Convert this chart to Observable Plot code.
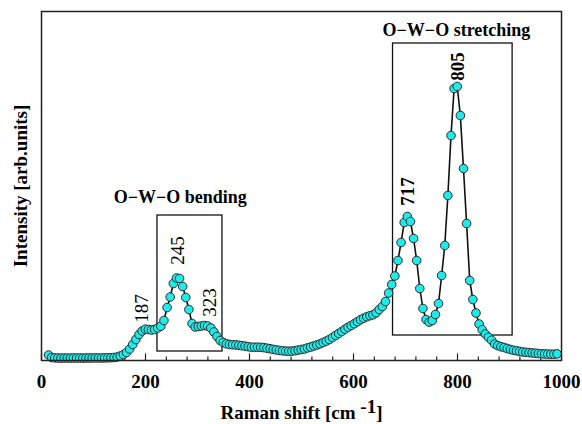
<!DOCTYPE html>
<html><head><meta charset="utf-8">
<script src="https://cdn.jsdelivr.net/npm/d3@7"></script>
<script src="https://cdn.jsdelivr.net/npm/@observablehq/plot@0.6"></script>
<style>
body{margin:0;background:#fff}
#chart{width:582px;height:424px}
</style>
</head><body><div id="chart"></div>
<script>
// Raman shift sampling (cm^-1)
const ramanShift = [
13.5,19.5,25.5,31.5,37.5,43.5,49.5,55.5,61.5,67.5,
73.5,79.5,85.5,91.5,97.5,103.5,109.5,115.5,121.5,127.5,
133.5,139.5,145.5,151.5,157.5,163.5,169.5,175.5,181.5,187.5,
193.5,199.5,205.5,211.5,217.5,223.5,229.5,235.5,241.5,247.5,
253.5,259.5,265.5,271.5,277.5,283.5,289.5,295.5,301.5,307.5,
313.5,319.5,325.5,331.5,337.5,343.5,349.5,355.5,361.5,367.5,
373.5,379.5,385.5,391.5,397.5,403.5,409.5,415.5,421.5,427.5,
433.5,439.5,445.5,451.5,457.5,463.5,469.5,475.5,481.5,487.5,
493.5,499.5,505.5,511.5,517.5,523.5,529.5,535.5,541.5,547.5,
553.5,559.5,565.5,571.5,577.5,583.5,589.5,595.5,601.5,607.5,
613.5,619.5,625.5,631.5,637.5,643.5,649.5,655.5,661.5,667.5,
673.5,679.5,685.5,691.5,697.5,703.5,709.5,715.5,721.5,727.5,
733.5,739.5,745.5,751.5,757.5,763.5,769.5,775.5,781.5,787.5,
793.5,799.5,805.5,811.5,817.5,823.5,829.5,835.5,841.5,847.5,
853.5,859.5,865.5,871.5,877.5,883.5,889.5,895.5,901.5,907.5,
913.5,919.5,925.5,931.5,937.5,943.5,949.5,955.5,961.5,967.5,
973.5,979.5,985.5,991.5];
// Intensity (arb. units)
const intensity = [
5.5,3,2.6,2.5,2.4,2.5,2.5,2.4,2.5,2.5,
2.5,2.4,2.5,2.5,2.5,2.6,2.5,2.5,2.6,2.7,
2.8,3,3.5,4.5,6,8,11.5,16,21,26,
29.5,31.3,31,30.5,31,32.5,34.3,40,53,63.5,
77,82.5,82,74,63,51,37,33.5,34,34.5,
35,34.5,32.5,28.5,24,20,18,16.7,16,15.8,
15.6,15.2,14.8,14.4,13.8,13.3,13.3,13.3,13.2,12.9,
12.3,11.8,11.1,10.6,10.1,9.7,9.4,9.3,9.4,9.8,
10.4,11,11.5,12.6,13.4,14.5,15.5,16.6,18,19.4,
21,23,25,27,29,31.3,33.2,35,36.8,38.8,
40.8,42.3,43.7,44.8,45.7,47.7,51,54,59,67.5,
76,84.5,100,118,138,144,139,122,100,72,
52,41,38.3,40,46,57,85,115,165,225,
272,274,245,192,137,80,61,47.5,36.5,30.8,
26.5,23.3,20.3,16.5,14.9,13.8,13,12,11,10.3,
9.7,9.1,8.5,8.2,7.9,7.6,7.3,7,6.7,6.6,
6.4,6.3,6.3,6.6];

const xTickValues = [0,200,400,600,800,1000];
const xMinorTicks = [40,80,120,160,240,280,320,360,440,480,520,560,640,680,720,760,840,880,920,960];

const peakLabels = ["187","245","323","717","805"];
const peakLabelX = [193,263,324,704,801];
const peakLabelY = [52,110,58,169,294];
const peakBold = [false,false,false,true,true];

const regionNames = ["O\u2212W\u2212O bending","O\u2212W\u2212O stretching"];
const regionX1 = [223,676];
const regionX2 = [348,906];
const regionY1 = [9,25];
const regionY2 = [145,317];
const regionLabelX = [267,798];
const regionLabelY = [163,330];

const xLabelMain = "Raman shift [cm ";
const xLabelSup = "-1";
const xLabelEnd = "]";
const yLabel = "Intensity [arb.units]";

const points = ramanShift.map((x,i)=>({x, y: intensity[i]}));
const peaks = peakLabels.map((t,i)=>({t, x: peakLabelX[i], y: peakLabelY[i], bold: peakBold[i]}));
const regions = regionNames.map((n,i)=>({n, x1: regionX1[i], x2: regionX2[i], y1: regionY1[i], y2: regionY2[i], lx: regionLabelX[i], ly: regionLabelY[i]}));

const font = "'Liberation Serif','Times New Roman',serif";
const innerH = 424 - 11 - 64;
const fullXLabel = xLabelMain + xLabelSup + xLabelEnd;

const plot = Plot.plot({
  width: 582, height: 424,
  marginLeft: 41, marginRight: 21, marginTop: 11, marginBottom: 64,
  style: {fontFamily: font, fontSize: "19px", background: "white", color: "black", overflow: "visible"},
  x: {domain: [0,1000], axis: null},
  y: {domain: [0,349], axis: null},
  marks: [
    Plot.ruleX(xMinorTicks, {insetTop: innerH - 3.5, stroke: "#222", strokeWidth: 1.2}),
    Plot.ruleX(xTickValues, {insetTop: innerH - 6.5, stroke: "#222", strokeWidth: 1.2}),
    Plot.text(xTickValues, {x: d => d, text: d => String(d), frameAnchor: "bottom", lineAnchor: "top", dy: 14, fontSize: 19, fontWeight: "bold", textAnchor: "middle"}),
    Plot.rect(regions, {x1: "x1", x2: "x2", y1: "y1", y2: "y2", fill: "none", stroke: "#111", strokeWidth: 1.3}),
    Plot.line(points, {x: "x", y: "y", stroke: "#111", strokeWidth: 1.6}),
    Plot.dot(points, {x: "x", y: "y", r: 4.3, fill: "#1eeaea", stroke: "#2a2a2a", strokeWidth: 1}),
    Plot.text(peaks.filter(d=>!d.bold), {x: "x", y: "y", text: "t", rotate: -90, fontSize: 19, fontWeight: "normal", textAnchor: "middle", lineAnchor: "middle"}),
    Plot.text(peaks.filter(d=>d.bold), {x: "x", y: "y", text: "t", rotate: -90, fontSize: 19, fontWeight: "bold", textAnchor: "middle", lineAnchor: "middle"}),
    Plot.text(regions, {x: "lx", y: "ly", text: "n", fontSize: 18, fontWeight: "bold", textAnchor: "middle", lineAnchor: "middle"}),
    Plot.text([yLabel], {frameAnchor: "left", dx: -21, rotate: -90, fontSize: 19, fontWeight: "bold", textAnchor: "middle", lineAnchor: "middle"}),
    Plot.text([fullXLabel], {frameAnchor: "bottom", dy: 58, fontSize: 19, fontWeight: "bold", textAnchor: "middle", lineAnchor: "bottom"}),
    Plot.frame({stroke: "#222", strokeWidth: 1.5})
  ]
});
document.getElementById("chart").appendChild(plot);

const ns = "http://www.w3.org/2000/svg";
for (const t of plot.querySelectorAll("text")) {
  // x label with a superscript
  if (t.textContent === fullXLabel) {
    while (t.firstChild) t.removeChild(t.firstChild);
    const a = document.createElementNS(ns, "tspan"); a.textContent = xLabelMain; t.appendChild(a);
    const b = document.createElementNS(ns, "tspan"); b.setAttribute("dy", "-6"); b.textContent = xLabelSup; t.appendChild(b);
    const c = document.createElementNS(ns, "tspan"); c.setAttribute("dy", "6"); c.textContent = xLabelEnd; t.appendChild(c);
  }
}
</script>
</body></html>
